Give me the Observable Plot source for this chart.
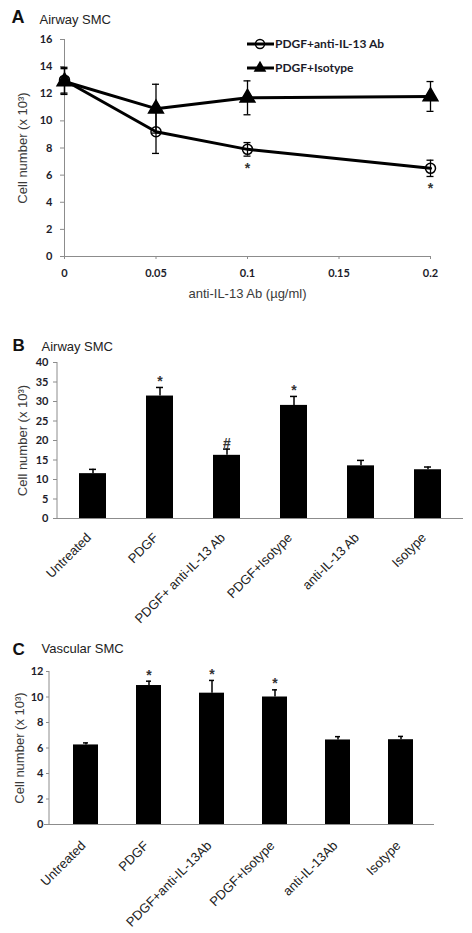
<!DOCTYPE html>
<html><head><meta charset="utf-8">
<script src="https://cdn.jsdelivr.net/npm/d3@7"></script>
<script src="https://cdn.jsdelivr.net/npm/@observablehq/plot@0.6"></script>
<style>
body{margin:0;background:#fff;}
#root{width:472px;height:933px;position:relative;overflow:hidden;background:#fff;}
#root svg{display:block;position:absolute;left:0;}
</style></head><body><div id="root"></div>
<script>
// ---------- Panel A data ----------
const doses = [0, 0.05, 0.1, 0.2];
const doseTicks = [0, 0.05, 0.1, 0.15, 0.2];
const seriesNames = ["PDGF+anti-IL-13 Ab", "PDGF+Isotype"];
const antiMean = [13.0, 9.2, 7.9, 6.5];
const antiErr = [0.95, 1.6, 0.5, 0.6];
const antiSig = ["", "", "*", "*"];
const isoMean = [12.9, 10.9, 11.7, 11.8];
const isoErr = [0.95, 1.8, 1.25, 1.1];
const yTicksA = [0, 2, 4, 6, 8, 10, 12, 14, 16];

// ---------- Panel B data ----------
const catsB = ["Untreated", "PDGF", "PDGF+ anti-IL-13 Ab", "PDGF+Isotype", "anti-IL-13 Ab", "Isotype"];
const meanB = [11.5, 31.4, 16.2, 29.0, 13.5, 12.5];
const errB = [1.1, 2.2, 1.6, 2.3, 1.4, 0.7];
const sigB = ["", "*", "#", "*", "", ""];
const yTicksB = [0, 5, 10, 15, 20, 25, 30, 35, 40];

// ---------- Panel C data ----------
const catsC = ["Untreated", "PDGF", "PDGF+anti-IL-13Ab", "PDGF+Isotype", "anti-IL-13Ab", "Isotype"];
const meanC = [6.24, 10.9, 10.3, 10.0, 6.63, 6.65];
const errC = [0.16, 0.34, 1.0, 0.56, 0.26, 0.26];
const sigC = ["", "*", "*", "*", "", ""];
const yTicksC = [0, 2, 4, 6, 8, 10, 12];

const yTitle = "Cell number (x 10\u00B3)";
const SANS = "'Liberation Sans', Arial, sans-serif";
const BOLD = "Lato, 'Liberation Sans', sans-serif";
const TICKC = "#1c1c2a";
const GRAY = "#8c8c8c";
const TITLEC = "#3a3a3a";
const W = 472;
const root = document.getElementById("root");

function place(svg, top) { svg.style.top = top + "px"; root.appendChild(svg); return svg; }
function yAxisLine(svg, x, y1, y2) {
  d3.select(svg).append("line").attr("x1", x).attr("x2", x).attr("y1", y1).attr("y2", y2)
    .attr("stroke", GRAY).attr("stroke-width", 1);
}

// ================= Panel A =================
const rowsA = [];
doses.forEach((d, i) => {
  rowsA.push({series: seriesNames[0], dose: d, mean: antiMean[i], err: antiErr[i], sig: antiSig[i]});
  rowsA.push({series: seriesNames[1], dose: d, mean: isoMean[i], err: isoErr[i], sig: ""});
});
const antiRows = rowsA.filter(r => r.series === seriesNames[0]);
const isoRows = rowsA.filter(r => r.series === seriesNames[1]);
const mA = {top: 39, bottom: 49, left: 64, right: 42};

const chartA = Plot.plot({
  width: W, height: 305,
  marginTop: mA.top, marginBottom: mA.bottom, marginLeft: mA.left, marginRight: mA.right,
  style: {background: "transparent", overflow: "visible"},
  x: {domain: [0, 0.2]},
  y: {domain: [0, 16]},
  marks: [
    Plot.ruleY([0], {stroke: GRAY}),
    Plot.ruleX([0], {stroke: GRAY}),
    Plot.axisX({ticks: doseTicks, tickSize: 3, tickFormat: () => "", color: GRAY, label: null}),
    Plot.axisX({ticks: doseTicks, tickSize: 0, tickPadding: 13, tickFormat: d => String(d), label: null,
      fontFamily: BOLD, fontWeight: "bold", fontSize: 11, color: TICKC}),
    Plot.axisY({ticks: yTicksA, tickSize: 4, tickFormat: () => "", color: GRAY, label: null}),
    Plot.axisY({ticks: yTicksA, tickSize: 0, tickPadding: 12, label: null,
      fontFamily: BOLD, fontWeight: "bold", fontSize: 11, color: TICKC}),
    Plot.line(rowsA, {x: "dose", y: "mean", z: "series", stroke: "black", strokeWidth: 3}),
    Plot.ruleX(rowsA, {x: "dose", y1: d => d.mean - d.err, y2: d => d.mean + d.err, stroke: "black", strokeWidth: 1.3}),
    Plot.ruleY(rowsA, {y: d => d.mean + d.err, x1: "dose", x2: "dose", insetLeft: -3.5, insetRight: -3.5, stroke: "black", strokeWidth: 1.3}),
    Plot.ruleY(rowsA, {y: d => d.mean - d.err, x1: "dose", x2: "dose", insetLeft: -3.5, insetRight: -3.5, stroke: "black", strokeWidth: 1.3}),
    Plot.dot(antiRows, {x: "dose", y: "mean", r: 5, stroke: "black", strokeWidth: 1.5, fill: "none"}),
    Plot.dot(isoRows, {x: "dose", y: "mean", r: 5.5, symbol: "triangle", fill: "black", stroke: "black"}),
    Plot.text(antiRows.filter(d => d.sig), {x: "dose", y: d => d.mean - d.err, text: "sig", dy: 12,
      fontSize: 14, fontWeight: "bold", fontFamily: SANS, fill: "#333"}),
    Plot.text(["A"], {frameAnchor: "top-left", textAnchor: "start", lineAnchor: "top", dx: 11 - mA.left, dy: 10 - mA.top,
      fontSize: 18, fontWeight: "bold", fontFamily: SANS, fill: "#111"}),
    Plot.text(["Airway SMC"], {frameAnchor: "top-left", textAnchor: "start", lineAnchor: "top", dx: 39 - mA.left, dy: 14 - mA.top,
      fontSize: 13, fontFamily: SANS, fill: "#222"}),
    Plot.text([yTitle], {frameAnchor: "left", textAnchor: "middle", lineAnchor: "middle", rotate: -90, dx: 22 - mA.left,
      fontSize: 13, fontFamily: SANS, fill: TITLEC}),
    Plot.text(["anti-IL-13 Ab (\u00B5g/ml)"], {frameAnchor: "bottom", textAnchor: "middle", lineAnchor: "top", dy: 32,
      fontSize: 13, fontFamily: SANS, fill: TITLEC})
  ]
});
place(chartA, 0);
// legend (layout element)
{
  const g = d3.select(chartA).append("g");
  const items = [{name: seriesNames[0], sym: "circle", y: 44}, {name: seriesNames[1], sym: "triangle", y: 68}];
  items.forEach(it => {
    g.append("line").attr("x1", 247).attr("x2", 274).attr("y1", it.y).attr("y2", it.y).attr("stroke", "black").attr("stroke-width", 3);
    if (it.sym === "circle") {
      g.append("circle").attr("cx", 260).attr("cy", it.y).attr("r", 4.5).attr("fill", "none").attr("stroke", "black").attr("stroke-width", 1.5);
    } else {
      g.append("path").attr("d", d3.symbol(d3.symbolTriangle, 70)()).attr("transform", `translate(260,${it.y})`).attr("fill", "black");
    }
    g.append("text").attr("x", 275).attr("y", it.y + 4).attr("text-anchor", "start").attr("font-family", BOLD).attr("font-weight", "bold")
      .attr("font-size", 12).attr("fill", TICKC).text(it.name);
  });
}

// ================= Bar panels =================
function barPanel({cats, mean, err, sig, yTicks, yMax, top, height, m, xInset, letter, title, letterTop, titleTop, yTitleX, tickPadY, tickSizeY, labelDy, labelDx}) {
  const rows = cats.map((c, i) => ({cat: c, mean: mean[i], err: err[i], sig: sig[i]}));
  const tp = d => d.mean + d.err;
  const svg = Plot.plot({
    width: W, height,
    marginTop: m.top, marginBottom: m.bottom, marginLeft: m.left, marginRight: m.right,
    style: {background: "transparent", overflow: "visible"},
    x: {type: "band", domain: cats, paddingInner: 0.6, paddingOuter: 0.3, insetLeft: xInset[0], insetRight: xInset[1], axis: null},
    y: {domain: [0, yMax]},
    marks: [
      Plot.barY(rows, {x: "cat", y: "mean", fill: "black"}),
      Plot.ruleX(rows, {x: "cat", y1: "mean", y2: tp, stroke: "black", strokeWidth: 1.5}),
      Plot.tickY(rows, {x: "cat", y: tp, insetLeft: 10, insetRight: 10, stroke: "black", strokeWidth: 1.5}),
      Plot.ruleY([0], {stroke: GRAY, insetLeft: -xInset[0], insetRight: -xInset[1]}),
      Plot.axisY({ticks: yTicks, tickSize: tickSizeY, tickFormat: () => "", color: GRAY, label: null}),
      Plot.axisY({ticks: yTicks, tickSize: 0, tickPadding: tickPadY, label: null,
        fontFamily: BOLD, fontWeight: "bold", fontSize: 11, color: TICKC}),
      Plot.text(cats, {x: d => d, frameAnchor: "bottom", rotate: -45, textAnchor: "end", lineAnchor: "middle",
        dx: labelDx, dy: labelDy, fontFamily: SANS, fontSize: 13, fill: "#222"}),
      Plot.text(rows.filter(d => d.sig), {x: "cat", y: tp, text: "sig", dy: -6,
        fontSize: 14, fontWeight: "bold", fontFamily: SANS, fill: "#333"}),
      Plot.text([letter], {frameAnchor: "top-left", textAnchor: "start", lineAnchor: "top", dx: 12 - m.left, dy: letterTop - m.top,
        fontSize: 17, fontWeight: "bold", fontFamily: SANS, fill: "#111"}),
      Plot.text([title], {frameAnchor: "top-left", textAnchor: "start", lineAnchor: "top", dx: 41 - m.left, dy: titleTop - m.top,
        fontSize: 13, fontFamily: SANS, fill: "#222"}),
      Plot.text([yTitle], {frameAnchor: "left", textAnchor: "middle", lineAnchor: "middle", rotate: -90, dx: yTitleX - m.left,
        fontSize: 13, fontFamily: SANS, fill: TITLEC})
    ]
  });
  place(svg, top);
  yAxisLine(svg, m.left, m.top, height - m.bottom);
  return svg;
}

barPanel({cats: catsB, mean: meanB, err: errB, sig: sigB, yTicks: yTicksB, yMax: 40,
  top: 305, height: 315, m: {top: 57, bottom: 102, left: 57, right: 10}, xInset: [2, 1],
  letter: "B", title: "Airway SMC", letterTop: 33, titleTop: 36, yTitleX: 22.5,
  tickPadY: 9, tickSizeY: 4, labelDy: 17, labelDx: -4});

barPanel({cats: catsC, mean: meanC, err: errC, sig: sigC, yTicks: yTicksC, yMax: 12,
  top: 620, height: 313, m: {top: 51, bottom: 109, left: 49, right: 39}, xInset: [5, 1],
  letter: "C", title: "Vascular SMC", letterTop: 22, titleTop: 23, yTitleX: 19,
  tickPadY: 6, tickSizeY: 3, labelDy: 19, labelDx: -2.5});
</script></body></html>
